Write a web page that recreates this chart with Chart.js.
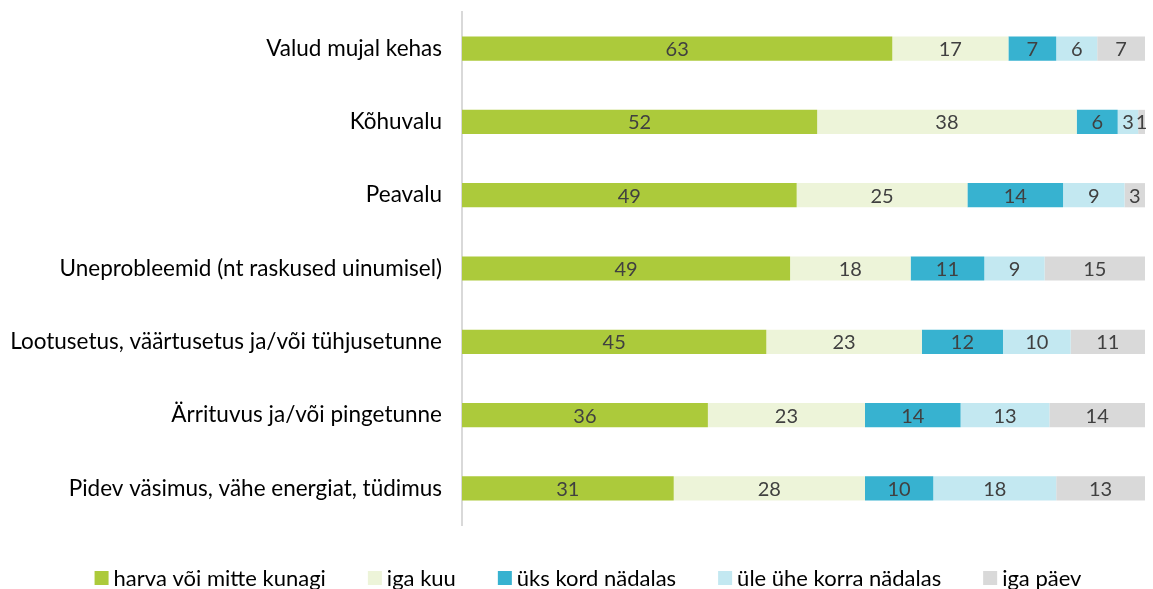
<!DOCTYPE html>
<html>
<head>
<meta charset="utf-8">
<script src="https://cdn.jsdelivr.net/npm/chart.js@4.4.0/dist/chart.umd.min.js"></script>
<style>
  html, body { margin: 0; padding: 0; background: #fff; }
  #wrap { width: 1153px; height: 589px; position: relative; }
</style>
</head>
<body>
<div id="wrap"><canvas id="freqChart"></canvas></div>
<script>
// categories, top to bottom
const categories = [
  'Valud mujal kehas',
  'Kõhuvalu',
  'Peavalu',
  'Uneprobleemid (nt raskused uinumisel)',
  'Lootusetus, väärtusetus ja/või tühjusetunne',
  'Ärrituvus ja/või pingetunne',
  'Pidev väsimus, vähe energiat, tüdimus'
];

const seriesNames = ['harva või mitte kunagi', 'iga kuu', 'üks kord nädalas', 'üle ühe korra nädalas', 'iga päev'];
const seriesColors = ['#acca3b', '#edf4d9', '#37b2d0', '#c3e8f1', '#d9d9d9'];

// values as printed on the bars
const harva = [63, 52, 49, 49, 45, 36, 31];
const igaKuu = [17, 38, 25, 18, 23, 23, 28];
const yksKord = [7, 6, 14, 11, 12, 14, 10];
const uleYhe = [6, 3, 9, 9, 10, 13, 18];
const igaPaev = [7, 1, 3, 15, 11, 14, 13];

const allSeries = [harva, igaKuu, yksKord, uleYhe, igaPaev];

const FONT = 'Lato';

// bars are 100% stacked: every row fills the full width
const rowTotals = categories.map((c, i) => allSeries.reduce((s, arr) => s + arr[i], 0));

const datasets = allSeries.map((vals, k) => ({
  label: seriesNames[k],
  data: vals.map((v, i) => v / rowTotals[i] * 100),
  raw: vals,
  backgroundColor: seriesColors[k],
  borderWidth: 0,
  barPercentage: 0.66,
  categoryPercentage: 0.5
}));

// value labels in the middle of each segment
const valueLabels = {
  id: 'valueLabels',
  afterDatasetsDraw(chart) {
    const ctx = chart.ctx;
    ctx.save();
    ctx.font = '20px ' + FONT;
    ctx.fillStyle = '#404040';
    ctx.textAlign = 'center';
    ctx.textBaseline = 'middle';
    chart.data.datasets.forEach((ds, k) => {
      chart.getDatasetMeta(k).data.forEach((bar, i) => {
        const x = (bar.x + bar.base) / 2;
        ctx.fillText(ds.raw[i], x, bar.y + 1);
      });
    });
    ctx.restore();
  }
};

// legend drawn underneath, centred
const bottomLegend = {
  id: 'bottomLegend',
  afterDraw(chart) {
    const ctx = chart.ctx;
    ctx.save();
    ctx.font = '22px ' + FONT;
    ctx.textBaseline = 'middle';
    const box = 14, gapText = 5, gapItem = 42;
    const widths = seriesNames.map(n => box + gapText + ctx.measureText(n).width);
    const total = widths.reduce((a, b) => a + b, 0) + gapItem * (seriesNames.length - 1);
    let x = 588 - total / 2;
    const y = 578;
    seriesNames.forEach((n, k) => {
      ctx.fillStyle = seriesColors[k];
      ctx.fillRect(x, y - box / 2, box, box);
      ctx.fillStyle = '#000';
      ctx.fillText(n, x + box + gapText, y + 1);
      x += widths[k] + gapItem;
    });
    ctx.restore();
  }
};

new Chart(document.getElementById('freqChart'), {
  type: 'bar',
  data: { labels: categories, datasets: datasets },
  options: {
    indexAxis: 'y',
    responsive: true,
    maintainAspectRatio: false,
    animation: false,
    layout: { padding: { top: 12, right: 8, bottom: 64, left: 0 } },
    scales: {
      x: {
        stacked: true,
        min: 0,
        max: 100,
        display: false
      },
      y: {
        stacked: true,
        grid: { display: false, drawTicks: false },
        border: { display: true, color: '#d9d9d9', width: 2 },
        ticks: {
          color: '#000',
          padding: 20,
          font: { family: FONT, size: 22.5 }
        },
        afterFit(scale) {
          scale.width = 462;
          scale.paddingTop = 0;
          scale.paddingBottom = 0;
        }
      }
    },
    plugins: {
      legend: { display: false },
      tooltip: { enabled: false }
    }
  },
  plugins: [valueLabels, bottomLegend]
});
</script>
</body>
</html>
